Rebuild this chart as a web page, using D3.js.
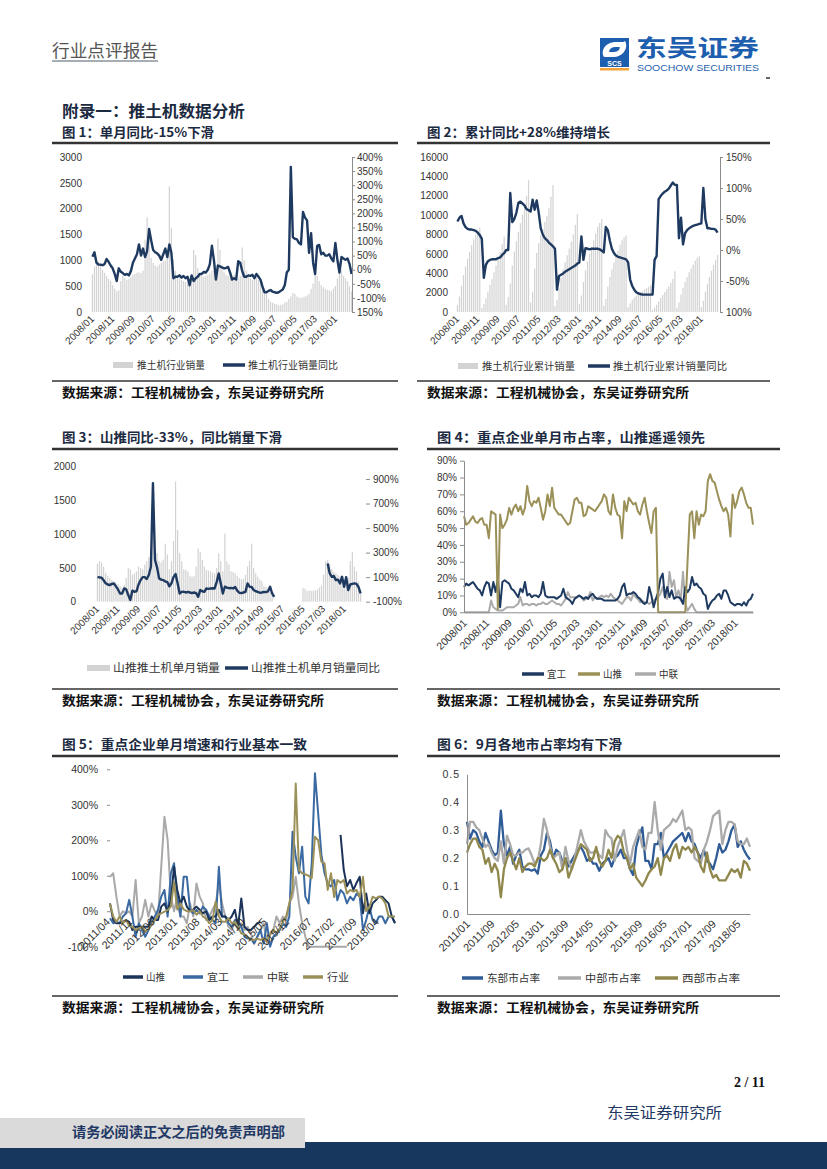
<!DOCTYPE html>
<html><head><meta charset="utf-8">
<script src="https://cdn.jsdelivr.net/npm/d3@7"></script>
<style>body{margin:0;background:#fff}svg{display:block}</style>
</head><body>
<svg id="page" width="827" height="1169"></svg>
<script>
// ---------------- DATA ----------------
const ticks08 = ["2008/01","2008/11","2009/09","2010/07","2011/05","2012/03","2013/01","2013/11","2014/09","2015/07","2016/05","2017/03","2018/01"];
const ticks5 = ["2011/04","2011/11","2012/06","2013/01","2013/08","2014/03","2014/10","2015/05","2015/12","2016/07","2017/02","2017/09","2018/04"];
const ticks6 = ["2011/01","2011/09","2012/05","2013/01","2013/09","2014/05","2015/01","2015/09","2016/05","2017/01","2017/09","2018/05"];

// Fig 1: monthly industry sales (units) and YoY (%)
const sales1 = [730,880,1050,980,900,820,760,700,640,600,520,450,
 400,420,600,700,650,620,640,680,720,740,760,770,
 750,800,1400,1830,1450,1050,950,900,880,920,950,980,
 1000,1100,2430,1620,1020,800,700,650,620,600,580,560,
 600,650,1200,1100,850,750,700,680,700,720,750,800,
 800,900,1420,1200,900,780,720,700,680,700,720,700,
 650,700,1250,1000,800,700,650,620,640,660,620,580,
 500,420,350,250,200,180,160,150,130,140,150,180,
 200,250,300,370,350,300,280,270,290,300,320,350,
 450,550,800,700,600,520,480,450,430,420,400,450,
 500,650,950,800,700,650,600,500,400];
const yoy1 = [46,62,25,18,18,16,20,38,28,15, 5,-15,-40,5,-7,-12,-18,-15,-20,-5,
 25,40,55,90,50,75,45,65,145,105, 70,62,58,50,35,55,75,45,90,60,
 -30,-25,-25,-20,-28,-22,-30,-25,-55,-20, -40,-30,-25,-15,-15,-8,-10,0,20,85,
 35,-35,15,12,8,5,6,10,-10,-35, -30,-35,30,25,-5,-25,-25,-20,-22,-18,
 -30,-15,-25,-35,-60,-80,-80,-75,-72,-78, -80,-82,-80,-75,-70,-55,-10,0,365,115,
 110,108,95,90,205,185,175,60,130,25, -15,85,88,55,60,50,50,55,40,30,
 95,35,-10,45,40,35,40,20,-15];

// Fig 2: cumulative industry sales and cumulative YoY (%)
const cum2 = [700,1600,2700,3800,4700,5500,6200,6900,7500,8000,8400,8700,
 400,800,1400,2100,2800,3400,4100,4800,5500,6200,7000,7800,
 750,1550,2950,4800,6250,7300,8250,9150,10050,11000,12000,13600,
 1000,2100,4500,6100,7100,7900,8600,9300,9900,10700,11900,13100,
 600,1250,2450,3550,4400,5150,5850,6550,7250,8000,9000,10100,
 800,1700,3100,4300,5200,6000,6700,7400,8100,8800,9200,9600,
 650,1350,2600,3600,4400,5100,5750,6350,6950,7400,7700,7900,
 500,900,1250,1500,1700,1850,2000,2150,2300,2450,2600,2750,
 200,450,750,1100,1450,1750,2050,2350,2650,3000,3400,4200,
 450,1000,1800,2500,3100,3600,4100,4500,4900,5300,5600,5750,
 500,1150,2100,2900,3600,4250,4850,5350,5900];
const yoy2 = [46,52,55,43,37,34,33,33,32,31, 28,24,18,-45,-24,-18,-16,-15,-15,-15,
 -13,-12,-8,-5,0,0,92,45,50,60, 76,78,75,72,66,64,62,81,65,80,
 60,35,25,19,16,12,9,6,2,-64, -42,-40,-38,-35,-33,-31,-29,-27,-25,-22,
 -20,22,-16,3,2,1,2,2,2,2, 1,-1,-4,37,32,15,2,-5,-9,-11,
 -12,-13,-14,-15,-20,-48,-58,-64,-68,-70, -71,-72,-72,-72,-72,-72,-72,-16,-10,82,
 87,91,94,96,99,104,109,105,105,19, 52,9,27,32,35,37,39,40,41,42,
 43,100,50,35,35,34,34,33,28];

// Fig 3: Shantui monthly sales and YoY (%)
const N = null;
const sales3 = [560,600,580,520,420,380,350,320,300,280, 260,230,200,250,350,500,480,400,420,450,
 520,500,480,550,600,660,770,960,700,720, 600,580,620,860,700,480,600,900,1780,1060,
 720,600,480,470,450,380,370,380,520,790, 740,620,520,470,460,450,430,420,500,716,
 600,450,1010,600,550,450,440,420,380,350, 330,340,400,520,600,860,500,420,370,330,
 300,230,220,200,150,120,N,N,N,N, N,N,N,N,N,N,N,N,N,N,
 200,190,160,165,160,165,170,180,210,240, 400,600,620,560,480,440,420,400,380,370,
 330,320,350,600,740,520,450,300,150];
const yoy3 = [100,98,95,75,50,40,35,45,48,25, 0,-33,-33,8,0,-46,-87,-10,-19,-15,
 40,76,100,100,85,117,185,865,240,180, 90,80,76,65,60,25,50,100,125,50,
 -33,-20,-19,-25,-20,-25,-30,-25,-30,-60, -5,-15,-20,8,5,8,10,8,60,130,
 49,-33,22,15,10,12,8,20,-10,-27, -30,-25,-20,49,22,20,-5,-15,-20,-27,
 -25,-20,-22,-15,22,-33,-60,N,N,N, N,N,N,N,N,N,N,N,N,N,
 N,N,N,N,N,N,N,N,N,N, N,N,212,130,103,110,76,80,49,103,
 22,100,-5,40,45,49,45,20,-33];

// Fig 4: monthly market share (%)
const share4Yigong = [15,17,16,17,18,16,14,13,10,15, 18,17,10,18,12,20,3,18,19,18,
 17,14,13,11,9,14,12,18,10,11, 9,10,10,9,11,18,10,9,9,9,
 9,8,9,10,14,9,8,7,5,8, 9,10,9,8,9,8,10,11,9,8,
 8,8,7,7,7,7,7,7,8,10, 15,17,10,11,11,12,11,9,8,6,
 5,6,15,10,3,8,12,20,23,9, 15,9,13,8,9,9,8,5,15,12,
 14,21,16,17,15,14,11,10,2,5, 7,8,10,11,8,13,13,10,6,5,
 4,5,5,4,6,4,7,8,11];
const share4Shantui = [57,52,53,55,57,54,53,55,56,52, 52,44,60,59,58,2,58,50,52,55,
 62,58,62,64,60,63,58,62,75,66, 63,66,65,68,62,55,60,70,63,74,
 62,60,58,58,56,54,52,53,60,67, 68,65,65,57,58,63,62,61,60,62,
 64,66,70,68,60,58,70,62,58,57, 44,66,60,68,66,64,65,60,58,64,
 68,60,53,47,60,62,0,0,0,0, 0,0,0,0,0,0,0,0,0,30,
 58,60,44,60,52,58,57,60,78,82, 78,77,72,67,63,60,62,58,45,70,
 62,66,72,74,70,65,62,62,52];
const share4Zoomlion = [0,0,0,0,0,0,0,0,0,0, 0,0,7,3,2,1,1,1,2,3,
 3,3,3,4,5,9,4,5,5,4, 5,5,4,5,5,6,5,5,6,7,
 6,5,5,4,6,8,12,9,9,9, 9,10,9,7,8,9,12,7,9,8,
 9,10,9,10,9,11,9,8,7,6, 5,7,9,9,7,11,9,8,6,7,
 6,6,5,6,7,8,9,11,15,9, 8,24,15,19,9,13,7,24,5,1,
 3,5,2,0,0,0,0,0,0,0, 0,0,0,0,0,0,0,0,0,0,
 0,0,0,0,0,0,0,0,0];

// Fig 5: monthly YoY growth (%), 2011/04 - 2018/09
const g5Shantui = [22,-25,-34,-34,-30,-25,-30,-53,-44,-44, -44,-44,-44,-15,-25,-25,13,22,-1,32,
 125,60,22,41,13,0,4,13,4,-6, 0,-25,-15,-15,4,-15,-15,-25,-15,4,
 -44,36,-44,-53,-53,-44,-34,-30,N,N, N,N,N,N,N,N,N,N,N,N,
 N,N,N,N,N,N,N,N,N,N, N,N,215,116,70,88,60,80,97,-6,
 50,-6,22,31,41,41,31,22,-15,-33];
const g5Yigong = [-20,-34,-30,-34,-15,-6,32,-15,-72,-34, -53,-72,-53,-34,-15,4,41,60,-15,107,
 135,40,-15,97,97,4,-6,4,-6,13, 4,-15,-25,-34,125,-15,-15,-34,-44,-25,
 -25,-44,-72,-77,-77,-91,-72,-53,-91,-34, -100,-72,-63,-53,-34,-44,-15,224,154,107,
 182,41,22,135,389,276,160,107,78,70, 88,31,60,50,22,41,31,50,41,-53,
 -25,13,-25,-34,-15,-15,-34,-15,-15,-34];
const g5Zoomlion = [97,107,41,-15,0,-6,0,-15,88,-34, -15,32,-15,22,0,-15,125,266,200,41,
 0,41,-15,-15,-34,22,-15,78,41,22, -25,-15,4,22,78,22,-15,-44,-53,-30,
 -53,-34,-53,-44,-63,-91,-72,-53,-34,-91, -63,-53,-15,-34,-15,-25,22,41,97,22,
 -34,-72,-100,-100,-100,-100,-100,-100,-100,-100, -100,-100,-100,-100,-100,N,N,N,N,N,
 N,N,N,N,N,N,N,N,N,N];
const g5Industry = [22,-15,-30,-15,-34,-25,-42,-44,-53,-48, -44,-58,-50,-39,-25,-11,-6,-1,3,13,
 83,5,22,5,0,0,3,-10,0,-15, -20,-34,-25,27,-15,-30,-30,-20,-34,-30,
 -44,-63,-65,-72,-81,-81,-77,-81,-77,-86, -66,-52,-61,-48,-30,-15,22,60,360,116,
 107,104,100,93,210,200,140,135,60,107, 40,88,80,88,50,60,55,60,40,97,
 0,12,41,36,41,36,22,-15,-15,-15];

// Fig 6: regional market share, 2011/01 - 2018/09
const r6East = [.33,.27,.30,.29,.26,.24,.29,.26,.23,.21, .22,.37,.25,.21,.24,.18,.21,.23,.17,.16,
 .16,.155,.16,.145,.21,.23,.29,.26,.20,.23, .22,.19,.20,.17,.19,.21,.23,.24,.22,.19,
 .20,.18,.18,.155,.18,.19,.20,.17,.20,.21, .23,.20,.20,.16,.14,.24,.28,.31,.19,.19,
 .16,.25,.25,.29,.20,.22,.24,.26,.27,.28, .29,.26,.29,.26,.25,.22,.20,.23,.19,.18,
 .16,.20,.25,.22,.23,.26,.30,.32,.24,.26, .23,.21,.195];
const r6Mid = [.25,.33,.33,.31,.30,.27,.24,.25,.22,.20, .19,.26,.18,.28,.25,.21,.21,.22,.22,.23,
 .235,.21,.18,.19,.25,.34,.30,.24,.20,.21, .22,.16,.24,.19,.16,.20,.25,.30,.26,.24,
 .22,.22,.23,.21,.20,.30,.28,.27,.19,.24, .27,.30,.23,.18,.24,.27,.30,.24,.23,.29,
 .29,.40,.30,.23,.30,.31,.32,.34,.33,.35, .37,.30,.31,.30,.20,.19,.18,.23,.26,.30,
 .35,.36,.37,.25,.30,.33,.33,.32,.26,.25, .25,.27,.24];
const r6West = [.22,.25,.27,.27,.24,.23,.18,.20,.15,.18, .155,.06,.16,.20,.22,.19,.16,.20,.15,.17,
 .18,.18,.17,.20,.20,.19,.20,.23,.20,.18, .15,.16,.20,.13,.16,.19,.22,.25,.24,.23,
 .19,.20,.24,.19,.17,.19,.23,.20,.26,.28, .27,.22,.20,.16,.18,.13,.115,.10,.12,.145,
 .16,.17,.20,.14,.20,.21,.19,.23,.25,.20, .24,.23,.24,.22,.24,.22,.17,.15,.22,.16,
 .13,.14,.12,.12,.12,.14,.16,.15,.16,.13, .19,.18,.155];

// ---------------- HELPERS ----------------
function monthList(y0, m0, n){ const out=[]; for(let i=0;i<n;i++){ const t=m0-1+i; out.push(`${y0+Math.floor(t/12)}/${String(t%12+1).padStart(2,'0')}`);} return out; }
const months08 = monthList(2008,1,sales1.length);
const months5 = monthList(2011,4,g5Industry.length);
const months6 = monthList(2011,1,r6East.length);

const svg = d3.select('#page');
const CJK = '"Noto Sans CJK SC","Noto Sans",sans-serif';
const SANS = '"Liberation Sans",Arial,sans-serif';
const navy='#1f3a60', barGray='#d3d3d3', lineGray='#ababab', olive='#9b9158';

function txt(x,y,s,o={}){
  const t=svg.append('text').attr('x',x).attr('y',y).text(s)
    .style('font-family',o.ff||CJK).style('font-size',(o.fs||12)+'px')
    .style('font-weight',o.fw||'normal').attr('fill',o.fill||'#222');
  if(o.anchor) t.attr('text-anchor',o.anchor);
  if(o.tl) t.attr('textLength',o.tl).attr('lengthAdjust','spacingAndGlyphs');
  if(o.ls) t.style('letter-spacing',o.ls+'px');
  return t;
}
function hline(x0,x1,y,w,c){ svg.append('line').attr('x1',x0).attr('x2',x1).attr('y1',y).attr('y2',y).attr('stroke',c||'#2b2b2b').attr('stroke-width',w); }
function styleAxis(g,fs,ls){ g.selectAll('text').style('font-family',SANS).style('font-size',fs+'px').attr('fill','#333'); if(ls) g.selectAll('text').style('letter-spacing',ls+'px'); g.selectAll('line').attr('stroke','#8c8c8c'); g.select('.domain').attr('stroke','#8c8c8c'); }
function xLabels(ticks,xpos,y,fs){
  svg.append('g').selectAll('text').data(ticks).join('text')
   .attr('transform',d=>`translate(${xpos(d)},${y}) rotate(-45)`)
   .attr('text-anchor','end').attr('dy','0.35em').text(d=>d)
   .style('font-family',SANS).style('font-size',fs+'px').attr('fill','#333');
}
function legend(items,y){
  items.forEach(it=>{
    if(it.type==='bar') svg.append('rect').attr('x',it.sx).attr('y',y-3).attr('width',it.sw).attr('height',6).attr('fill',it.color);
    else hline(it.sx,it.sx+it.sw,y,3.5,it.color);
    txt(it.tx,y+4,it.label,{fs:it.fs||10,tl:it.tl,fill:'#333'});
  });
}
function titleBlock(x0,x1,tx,ty,ly,s,tl){ txt(tx,ty,s,{fs:13,fw:'bold',fill:'#1b2a41',tl}); hline(x0,x1,ly,2.5,'#333'); }
function sourceBlock(x0,x1,tx,ly,ty){ hline(x0,x1,ly,1.5,'#333'); txt(tx,ty,'数据来源：工程机械协会，东吴证券研究所',{fs:13,fw:'bold',fill:'#111',tl:262}); }
const intFmt = d3.format('d');

function comboChart(c){
  const x=d3.scaleBand().domain(c.cats).range([c.x0,c.x1]).padding(0.4);
  const yL=d3.scaleLinear().domain(c.yL).range([c.yb,c.yt]);
  const yR=d3.scaleLinear().domain(c.yR).range([c.yb,c.yt]);
  const g=svg.append('g');
  g.selectAll('rect').data(c.bars.map((v,i)=>({v,k:c.cats[i]})).filter(d=>d.v!=null)).join('rect')
   .attr('x',d=>x(d.k)).attr('width',x.bandwidth()).attr('y',d=>yL(d.v)).attr('height',d=>yL(0)-yL(d.v)).attr('fill',barGray);
  const ln=d3.line().defined(d=>d.v!=null).x(d=>x(d.k)+x.bandwidth()/2).y(d=>yR(d.v));
  g.append('path').datum(c.line.map((v,i)=>({v,k:c.cats[i]}))).attr('d',ln).attr('fill','none')
   .attr('stroke',navy).attr('stroke-width',2.4).attr('stroke-linejoin','round');
  const aL=svg.append('g').attr('transform',`translate(${c.axL},0)`)
   .call(d3.axisLeft(yL).tickValues(c.yLt).tickSize(0).tickPadding(3).tickFormat(intFmt));
  aL.select('.domain').remove(); styleAxis(aL,10);
  const aR=svg.append('g').attr('transform',`translate(${c.axR},0)`)
   .call(d3.axisRight(yR).tickValues(c.yRt).tickSizeOuter(0).tickSize(c.rTick).tickPadding(c.rPad).tickFormat(c.rFmt));
  if(c.noRDomain) aR.select('.domain').remove();
  styleAxis(aR,10);
  xLabels(ticks08,d=>x(d)+x.bandwidth()/2+c.lx,c.ly,10);
  return x;
}

// ---------------- HEADER ----------------
txt(52,57,'行业点评报告',{fs:17,fill:'#555',tl:106});
hline(52,158,61,1.5,'#8a929c');
// logo
svg.append('rect').attr('x',600).attr('y',38).attr('width',29).attr('height',22).attr('fill','#1d5fae');
svg.append('path').attr('d','M604,57 C600,50 606,41 618,42 L625,42 L621,47 L615,47 C610,47 608,51 610,54 Z').attr('fill','#fff');
svg.append('path').attr('d','M625,41 C629,48 623,58 611,57 L604,57 L608,52 L614,52 C619,52 621,48 619,45 Z').attr('fill','#fff');
svg.append('rect').attr('x',600).attr('y',60).attr('width',29).attr('height',7).attr('fill','#1d5fae');
txt(614.5,66,'SCS',{ff:SANS,fs:7,fw:'bold',fill:'#fff',anchor:'middle'});
svg.append('rect').attr('x',600).attr('y',68).attr('width',29).attr('height',2.5).attr('fill','#f2a33a');
txt(636,56,'东吴证券',{fs:23,fw:'bold',fill:'#1d5fae',tl:123});
txt(637,71,'SOOCHOW SECURITIES',{ff:SANS,fs:9.5,fill:'#2a63ae',tl:122});
hline(766,770,78,1.5,'#333');

txt(62,117,'附录一：推土机数据分析',{fs:16,fw:'bold',fill:'#1b2a41',tl:183});

// ---------------- FIG 1 ----------------
titleBlock(52,398,62,137,143,'图 1：单月同比-15%下滑',152);
comboChart({cats:months08,bars:sales1,line:yoy1,x0:91,x1:353,yb:312,yt:157,
  yL:[0,3000],yR:[-150,400],yLt:d3.range(0,3001,500),yRt:d3.range(-150,401,50),
  axL:85,axR:352,rTick:3,rPad:2,rFmt:d=>(d===-150?'150':d)+'%',lx:0,ly:317});
legend([{type:'bar',sx:113,sw:20,color:barGray,tx:137,label:'推土机行业销量',tl:68},
        {type:'line',sx:223,sw:22,color:navy,tx:248,label:'推土机行业销量同比',tl:90}],365);
sourceBlock(52,398,62,381,397);

// ---------------- FIG 2 ----------------
titleBlock(417,770,427,137,143,'图 2：累计同比+28%维持增长',183);
comboChart({cats:months08,bars:cum2,line:yoy2,x0:456,x1:719,yb:312,yt:157,
  yL:[0,16000],yR:[-100,150],yLt:d3.range(0,16001,2000),yRt:d3.range(-100,151,50),
  axL:451,axR:720,rTick:3,rPad:3,rFmt:d=>(d===-100?'100':d)+'%',lx:0,ly:317});
legend([{type:'bar',sx:458,sw:20,color:barGray,tx:482,label:'推土机行业累计销量',tl:93},
        {type:'line',sx:588,sw:22,color:navy,tx:613,label:'推土机行业累计销量同比',tl:114}],366);
sourceBlock(417,770,427,381,397);

// ---------------- FIG 3 ----------------
titleBlock(52,398,62,442,449,'图 3：山推同比-33%，同比销量下滑',220);
comboChart({cats:months08,bars:sales3,line:yoy3,x0:96,x1:362,yb:601.7,yt:466.7,
  yL:[0,2000],yR:[-100,1000],yLt:d3.range(0,2001,500),yRt:d3.range(-100,901,200),
  axL:79,axR:366,rTick:4,rPad:3,rFmt:d=>d+'%',noRDomain:true,lx:0,ly:607});
legend([{type:'bar',sx:87,sw:23,color:barGray,tx:113,label:'山推推土机单月销量',tl:107,fs:11},
        {type:'line',sx:225,sw:23,color:navy,tx:251,label:'山推推土机单月销量同比',tl:129,fs:11}],668);
sourceBlock(52,398,62,689,705);

// ---------------- FIG 4 ----------------
titleBlock(427,780,437,442,449,'图 4：重点企业单月市占率，山推遥遥领先',268);
{
  const x=d3.scalePoint().domain(months08).range([464,753]);
  const y=d3.scaleLinear().domain([0,90]).range([612.3,460.7]);
  const ln=d3.line().x((d,i)=>x(months08[i])).y(d=>y(d));
  [[share4Zoomlion,lineGray],[share4Yigong,navy],[share4Shantui,olive]].forEach(([s,c])=>{
    svg.append('path').datum(s).attr('d',ln).attr('fill','none').attr('stroke',c).attr('stroke-width',2).attr('stroke-linejoin','round');
  });
  const aY=svg.append('g').attr('transform','translate(464,0)').call(d3.axisLeft(y).tickValues(d3.range(0,91,10)).tickSize(4).tickSizeOuter(0).tickPadding(3).tickFormat(d=>d+'%'));
  styleAxis(aY,10);
  const aX=svg.append('g').attr('transform','translate(0,612.3)').call(d3.axisBottom(x).tickValues([]).tickSizeOuter(0));
  styleAxis(aX,10);
  xLabels(ticks08,d=>x(d)+1,621,10.5);
  legend([{type:'line',sx:522,sw:22,color:navy,tx:547,label:'宜工',tl:19},
          {type:'line',sx:578,sw:22,color:olive,tx:603,label:'山推',tl:19},
          {type:'line',sx:635,sw:21,color:lineGray,tx:659,label:'中联',tl:19}],674);
}
sourceBlock(427,780,437,689,705);

// ---------------- FIG 5 ----------------
titleBlock(52,398,62,749,756,'图 5：重点企业单月增速和行业基本一致',245);
{
  const x=d3.scalePoint().domain(months5).range([110,395]);
  const y=d3.scaleLinear().domain([-100,400]).range([946.7,769.3]);
  const ln=d3.line().defined(d=>d!=null).x((d,i)=>x(months5[i])).y(d=>y(d));
  [[g5Zoomlion,'#a9a9a9'],[g5Yigong,'#3b6aa3'],[g5Shantui,'#1b3358'],[g5Industry,olive]].forEach(([s,c])=>{
    svg.append('path').datum(s).attr('d',ln).attr('fill','none').attr('stroke',c).attr('stroke-width',2).attr('stroke-linejoin','round');
  });
  const aY=svg.append('g').attr('transform','translate(110,0)').call(d3.axisLeft(y).tickValues(d3.range(-100,401,100)).tickSize(3).tickSizeOuter(0).tickPadding(9).tickFormat(d=>d+'%'));
  aY.select('.domain').remove(); styleAxis(aY,10.5);
  xLabels(ticks5,d=>x(d)-2,920,11);
  legend([{type:'line',sx:123,sw:20,color:'#1b3358',tx:146,label:'山推',tl:19},
          {type:'line',sx:183,sw:20,color:'#3b6aa3',tx:207,label:'宜工',tl:22},
          {type:'line',sx:243,sw:20,color:'#a9a9a9',tx:267,label:'中联',tl:22},
          {type:'line',sx:303,sw:20,color:olive,tx:327,label:'行业',tl:22}],977);
}
sourceBlock(52,398,62,996,1012);

// ---------------- FIG 6 ----------------
titleBlock(427,780,437,749,756,'图 6：9月各地市占率均有下滑',185);
{
  const x=d3.scalePoint().domain(months6).range([467,750]);
  const y=d3.scaleLinear().domain([0,0.5]).range([914,774.3]);
  const ln=d3.line().x((d,i)=>x(months6[i])).y(d=>y(d));
  [[r6East,'#2f5b96'],[r6Mid,'#aaaaaa'],[r6West,'#8f874c']].forEach(([s,c])=>{
    svg.append('path').datum(s).attr('d',ln).attr('fill','none').attr('stroke',c).attr('stroke-width',2.3).attr('stroke-linejoin','round');
  });
  const aY=svg.append('g').attr('transform','translate(467,0)').call(d3.axisLeft(y).tickValues(d3.range(0,0.51,0.1)).tickSize(0).tickSizeOuter(0).tickPadding(7).tickFormat(d3.format('.1f')));
  styleAxis(aY,10.5,1);
  const aX=svg.append('g').attr('transform','translate(0,914)').call(d3.axisBottom(x).tickValues([]).tickSizeOuter(0));
  styleAxis(aX,10);
  xLabels(ticks6,d=>x(d)+1,922,11);
  legend([{type:'line',sx:462,sw:21,color:'#2f5b96',tx:487,label:'东部市占率',tl:53},
          {type:'line',sx:558,sw:23,color:'#aaaaaa',tx:585,label:'中部市占率',tl:56},
          {type:'line',sx:655,sw:23,color:'#8f874c',tx:682,label:'西部市占率',tl:58}],978);
}
sourceBlock(427,780,437,996,1012);

// ---------------- FOOTER ----------------
txt(765,1087,'2 / 11',{ff:'"Liberation Serif",serif',fs:14,fw:'bold',fill:'#111',anchor:'end'});
txt(607,1118,'东吴证券研究所',{fs:15,fill:'#1f3864',tl:115});
svg.append('rect').attr('x',305).attr('y',1142).attr('width',522).attr('height',27).attr('fill','#17375e');
svg.append('rect').attr('x',0).attr('y',1148).attr('width',305).attr('height',21).attr('fill','#17375e');
svg.append('rect').attr('x',0).attr('y',1118).attr('width',305).attr('height',30).attr('fill','#dadada');
txt(72,1137,'请务必阅读正文之后的免责声明部',{fs:14,fw:'bold',fill:'#1f3864',tl:213});
</script>
</body></html>
